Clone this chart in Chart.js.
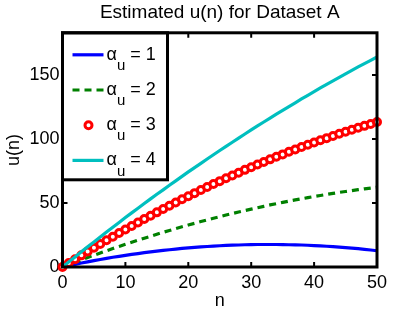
<!DOCTYPE html>
<html>
<head>
<meta charset="utf-8">
<script src="https://cdn.jsdelivr.net/npm/chart.js@4"></script>
<style>
  html, body { margin: 0; padding: 0; background: #fff; }
  #wrap { width: 415px; height: 312px; }
</style>
</head>
<body>
<div id="wrap"><canvas id="chart" width="415" height="312"></canvas></div>
<script>
// data
const nValues = [0,1,2,3,4,5,6,7,8,9,10,11,12,13,14,15,16,17,18,19,20,21,22,23,24,25,
  26,27,28,29,30,31,32,33,34,35,36,37,38,39,40,41,42,43,44,45,46,47,48,49,50];

const alpha1 = [0,1.1,2.1,3.1,4.0,5.0,5.9,6.7,7.6,8.3,9.1,9.8,10.5,11.2,11.8,12.4,13.0,13.5,14.0,14.5,
  14.9,15.3,15.7,16.0,16.3,16.6,16.9,17.1,17.2,17.4,17.5,17.6,17.6,17.6,17.6,17.5,17.4,17.3,17.2,17.0,
  16.7,16.5,16.2,15.9,15.5,15.1,14.7,14.3,13.8,13.3,12.7];
const alpha2 = [0,1.9,3.7,5.6,7.4,9.2,10.9,12.7,14.4,16.0,17.7,19.3,20.9,22.5,24.0,25.6,27.1,28.5,30.0,31.4,
  32.8,34.1,35.5,36.8,38.1,39.3,40.6,41.8,43.0,44.1,45.2,46.3,47.4,48.5,49.5,50.5,51.5,52.4,53.3,54.2,
  55.1,55.9,56.7,57.5,58.3,59.0,59.7,60.4,61.1,61.7,62.3];
const alpha3 = [0,3.1,6.1,9.1,12.1,15.1,18.0,20.9,23.7,26.5,29.3,32.1,34.8,37.5,40.1,42.7,45.3,47.9,50.4,52.9,
  55.3,57.7,60.1,62.5,64.8,67.1,69.3,71.5,73.7,75.9,78.0,80.1,82.1,84.1,86.1,88.0,90.0,91.8,93.7,95.5,
  97.3,99.0,100.7,102.4,104.1,105.7,107.3,108.8,110.3,111.8,113.3];
const alpha4 = [0,4.0,7.9,11.9,15.8,19.6,23.5,27.3,31.1,34.8,38.6,42.3,45.9,49.6,53.2,56.8,60.3,63.9,67.3,70.8,
  74.3,77.7,81.0,84.4,87.7,91.0,94.3,97.5,100.7,103.9,107.1,110.2,113.3,116.4,119.4,122.4,125.4,128.3,131.3,134.2,
  137.0,139.9,142.7,145.4,148.2,150.9,153.6,156.3,158.9,161.5,164.1];

const seriesNames = ['1', '2', '3', '4'];
const xTicks = [0, 10, 20, 30, 40, 50];
const yTicks = [0, 50, 100, 150];

const FONT = "'Liberation Sans', Arial, sans-serif";
Chart.defaults.font.family = FONT;
Chart.defaults.color = '#000';

function pts(vals) {
  return nValues.map((n, i) => ({ x: n, y: vals[i] }));
}

const datasets = [
  { label: seriesNames[0], data: pts(alpha1), borderColor: '#0000ff', borderWidth: 3.2,
    pointRadius: 0, order: 3 },
  { label: seriesNames[1], data: pts(alpha2), borderColor: '#008000', borderWidth: 3.2,
    borderDash: [7, 5], pointRadius: 0, order: 2 },
  { label: seriesNames[2], data: pts(alpha3), borderColor: '#ff0000', showLine: false,
    pointRadius: 3.5, pointBorderWidth: 3, pointBackgroundColor: '#ffffff', pointBorderColor: '#ff0000', order: 1 },
  { label: seriesNames[3], data: pts(alpha4), borderColor: '#00bfbf', borderWidth: 3.2,
    pointRadius: 0, order: 0 },
];

// box round the axes, inward ticks, and the legend in the upper left corner
const boxAndLegend = {
  id: 'boxAndLegend',
  afterDraw(chart) {
    const { ctx, chartArea: a, scales: { x, y } } = chart;
    ctx.save();

    ctx.strokeStyle = '#000';
    ctx.lineWidth = 2;
    ctx.beginPath();
    xTicks.forEach(v => {
      const px = x.getPixelForValue(v);
      ctx.moveTo(px, a.bottom); ctx.lineTo(px, a.bottom - 5);
      ctx.moveTo(px, a.top); ctx.lineTo(px, a.top + 5);
    });
    yTicks.forEach(v => {
      const py = y.getPixelForValue(v);
      ctx.moveTo(a.left, py); ctx.lineTo(a.left + 5, py);
      ctx.moveTo(a.right, py); ctx.lineTo(a.right - 5, py);
    });
    ctx.stroke();

    // legend
    const lx = a.left, ly = a.top, lw = 105, lh = 147;
    ctx.fillStyle = '#fff';
    ctx.fillRect(lx, ly, lw, lh);

    chart.data.datasets.forEach((ds, i) => {
      const cy = ly + 22 + i * 35.2;
      if (ds.showLine === false) {
        ctx.beginPath();
        ctx.arc(lx + 26, cy, ds.pointRadius, 0, Math.PI * 2);
        ctx.fillStyle = ds.pointBackgroundColor;
        ctx.fill();
        ctx.lineWidth = ds.pointBorderWidth;
        ctx.strokeStyle = ds.pointBorderColor;
        ctx.stroke();
      } else {
        ctx.beginPath();
        ctx.setLineDash(ds.borderDash || []);
        ctx.moveTo(lx + 10, cy);
        ctx.lineTo(lx + 41, cy);
        ctx.lineWidth = ds.borderWidth;
        ctx.strokeStyle = ds.borderColor;
        ctx.stroke();
        ctx.setLineDash([]);
      }
      ctx.fillStyle = '#000';
      ctx.textBaseline = 'middle';
      ctx.textAlign = 'left';
      let tx = lx + 44;
      ctx.font = '18px ' + FONT;
      ctx.fillText('\u03b1', tx, cy);
      tx += ctx.measureText('\u03b1').width;
      ctx.font = '15px ' + FONT;
      ctx.fillText('u', tx, cy + 11);
      tx += ctx.measureText('u').width;
      ctx.font = '18px ' + FONT;
      ctx.fillText(' = ' + ds.label, tx, cy);
    });

    ctx.strokeStyle = '#000';
    ctx.lineWidth = 3;
    ctx.strokeRect(lx, ly, lw, lh);
    ctx.strokeRect(a.left, a.top, a.right - a.left, a.bottom - a.top);
    ctx.restore();
  }
};

new Chart(document.getElementById('chart').getContext('2d'), {
  type: 'line',
  data: { datasets: datasets.map(d => Object.assign({ fill: false, tension: 0, clip: false }, d)) },
  options: {
    responsive: false,
    animation: false,
    layout: { padding: { left: 0, right: 38, top: 0, bottom: 0 } },
    plugins: {
      legend: { display: false },
      tooltip: { enabled: false },
      title: {
        display: true,
        fullSize: false,
        text: 'Estimated u(n) for Dataset A',
        font: { size: 19, weight: 'normal' },
        padding: { top: 1, bottom: 9 },
      },
    },
    scales: {
      x: {
        type: 'linear',
        min: 0,
        max: 50,
        afterBuildTicks: s => { s.ticks = xTicks.map(v => ({ value: v })); },
        afterFit: s => { s.height = 45; },
        grid: { display: false, drawTicks: false },
        border: { display: false },
        ticks: { font: { size: 18 }, padding: 5, maxRotation: 0 },
        title: { display: true, text: 'n', font: { size: 18 }, padding: { top: 0, bottom: 0 } },
      },
      y: {
        type: 'linear',
        min: 0,
        max: 183,
        afterBuildTicks: s => { s.ticks = yTicks.map(v => ({ value: v })); },
        afterFit: s => { s.width = 62.5; },
        grid: { display: false, drawTicks: false },
        border: { display: false },
        ticks: { font: { size: 18 }, padding: 3 },
        title: { display: true, text: 'u(n)', font: { size: 18 }, padding: { top: 3, bottom: 0 } },
      },
    },
  },
  plugins: [boxAndLegend],
});
</script>
</body>
</html>
